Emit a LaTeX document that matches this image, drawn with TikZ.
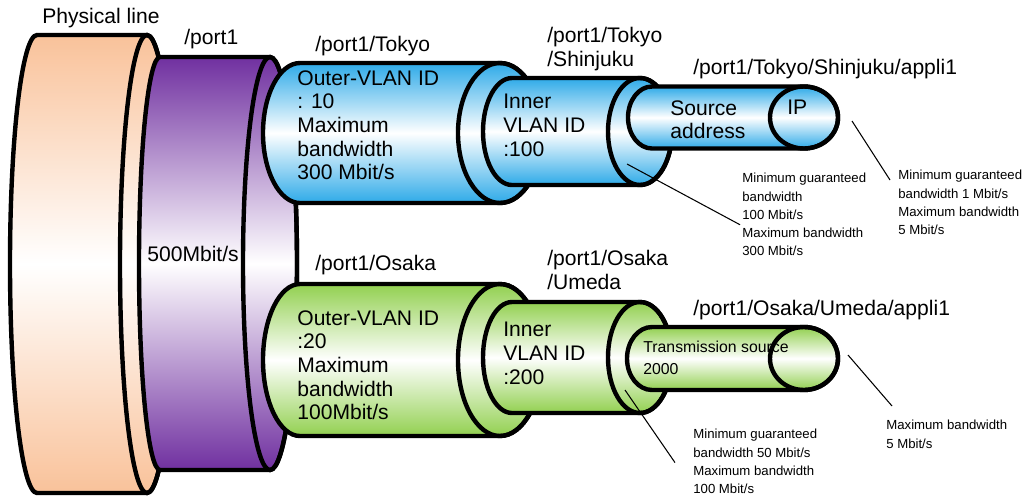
\documentclass[tikz,border=0pt]{standalone}
\usepackage{fontspec}
\setmainfont{Liberation Sans}
\usepackage{tikz}
\usetikzlibrary{calc}
\usepackage{xcolor}

\definecolor{lineorange}{HTML}{F9C29A}
\definecolor{portpurple}{HTML}{7030A0}
\definecolor{tokyoblue}{HTML}{2EAAE8}
\definecolor{osakagreen}{HTML}{92D050}

% tube: #1 colour, #2 left x, #3 left radius, #4 end x, #5 end radius, #6 centre y, #7 half height
\newcommand{\drawtube}[7]{%
  \shadedraw[tube, top color=#1, bottom color=#1, middle color=white]
    (#2,#6-#7) arc[start angle=-90, end angle=-270, x radius=#3, y radius=#7]
    -- (#4,#6+#7) arc[start angle=90, end angle=-90, x radius=#5, y radius=#7] -- cycle;
  \draw[tube] (#4,#6) ellipse[x radius=#5, y radius=#7];
}

\begin{document}
\begin{tikzpicture}[
    x=0.02cm, y=-0.02cm,
    every node/.style={inner sep=0pt, anchor=north west, align=left},
    big/.style={font=\fontsize{12}{13.5}\selectfont},
    note/.style={font=\fontsize{7.5}{10.4}\selectfont},
    tube/.style={draw=black, line width=2.5pt},
    leader/.style={line width=0.6pt}
]
\useasboundingbox (0,0) rectangle (1027,495);

% physical line and port
\drawtube{lineorange}{37}{27}{147}{27}{264}{229}
\drawtube{portpurple}{160}{21}{270}{27}{263.5}{206.5}

% Tokyo branch
\drawtube{tokyoblue}{300}{37}{500}{42}{133}{70}
\drawtube{tokyoblue}{512}{29}{640}{32}{131.5}{53.5}
\drawtube{tokyoblue}{652}{24}{804}{34}{117.5}{31}

% Osaka branch
\drawtube{osakagreen}{300}{37}{500}{42}{360}{76}
\drawtube{osakagreen}{512}{29}{640}{32}{357.5}{55.5}
\drawtube{osakagreen}{652}{25}{804}{34}{358.5}{31.5}

% labels
\node[big] (physical) at (42,8) {Physical line};
\node[big] (port1) at (184,29) {/port1};
\node[big] (port1-rate) at (147,246) {500Mbit/s};

\node[big] (tokyo) at (315,36) {/port1/Tokyo};
\node[big] (tokyo-info) at (297,70) {Outer-VLAN ID\\: 10\\Maximum\\bandwidth\\300 Mbit/s};
\node[big] (shinjuku) at (547,27) {/port1/Tokyo\\/Shinjuku};
\node[big] (shinjuku-info) at (503,94) {Inner\\VLAN ID\\:100};
\node[big] (tokyo-appli) at (693,59) {/port1/Tokyo/Shinjuku/appli1};
\node[big] (tokyo-src) at (670,100) {Source\\address};
\node[big] (tokyo-ip) at (787,100) {IP};

\node[big] (osaka) at (315,255) {/port1/Osaka};
\node[big] (osaka-info) at (297,310) {Outer-VLAN ID\\:20\\Maximum\\bandwidth\\100Mbit/s};
\node[big] (umeda) at (547,250) {/port1/Osaka\\/Umeda};
\node[big] (umeda-info) at (503,322) {Inner\\VLAN ID\\:200};
\node[big] (osaka-appli) at (693,300) {/port1/Osaka/Umeda/appli1};
\node[font=\fontsize{9}{12.5}\selectfont] (osaka-src) at (643,341) {Transmission source\\2000};

% bandwidth notes
\node[note] (shinjuku-note) at (742,173)
    {Minimum guaranteed\\bandwidth\\100 Mbit/s\\Maximum bandwidth\\300 Mbit/s};
\node[note] (tokyo-appli-note) at (898,170)
    {Minimum guaranteed\\bandwidth 1 Mbit/s\\Maximum bandwidth\\5 Mbit/s};
\node[note] (umeda-note) at (693,429)
    {Minimum guaranteed\\bandwidth 50 Mbit/s\\Maximum bandwidth\\100 Mbit/s};
\node[note] (osaka-appli-note) at (886,420)
    {Maximum bandwidth\\5 Mbit/s};

% leader lines
\coordinate (shinjuku-tap) at (627,164);
\coordinate (tokyo-appli-tap) at (852,121);
\coordinate (umeda-tap) at (625,390);
\coordinate (osaka-appli-tap) at (848,355);

\draw[leader] (shinjuku-tap) -- ($(shinjuku-note.west)+(-2,10)$);
\draw[leader] (tokyo-appli-tap) -- ($(tokyo-appli-note.north west)+(-8,10)$);
\draw[leader] (umeda-tap) -- ($(umeda-note.west)+(-18,1)$);
\draw[leader] (osaka-appli-tap) -- ($(osaka-appli-note.north west)+(6,-14)$);
\end{tikzpicture}
\end{document}
